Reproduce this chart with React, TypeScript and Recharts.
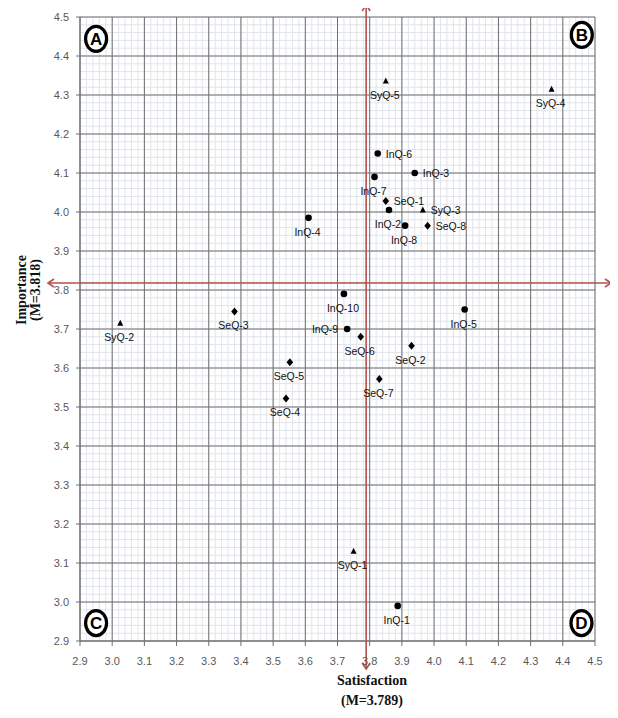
import React from 'react';
import {
  ScatterChart,
  Scatter,
  XAxis,
  YAxis,
  CartesianGrid,
  ReferenceLine,
  ReferenceDot,
  Label,
} from 'recharts';

// Information quality items
const inqNames = ['InQ-1', 'InQ-2', 'InQ-3', 'InQ-4', 'InQ-5', 'InQ-6', 'InQ-7', 'InQ-8', 'InQ-9', 'InQ-10'];
const inqSatisfaction = [3.887, 3.86, 3.94, 3.61, 4.095, 3.825, 3.815, 3.91, 3.73, 3.72];
const inqImportance = [2.99, 4.005, 4.1, 3.985, 3.75, 4.15, 4.09, 3.965, 3.7, 3.79];

// Service quality items
const seqNames = ['SeQ-1', 'SeQ-2', 'SeQ-3', 'SeQ-4', 'SeQ-5', 'SeQ-6', 'SeQ-7', 'SeQ-8'];
const seqSatisfaction = [3.85, 3.93, 3.38, 3.54, 3.552, 3.772, 3.83, 3.98];
const seqImportance = [4.028, 3.657, 3.745, 3.522, 3.615, 3.68, 3.572, 3.965];

// System quality items
const syqNames = ['SyQ-1', 'SyQ-2', 'SyQ-3', 'SyQ-4', 'SyQ-5'];
const syqSatisfaction = [3.75, 3.025, 3.965, 4.365, 3.85];
const syqImportance = [3.13, 3.715, 4.005, 4.315, 4.336];

// means
const satisfactionMean = 3.789;
const importanceMean = 3.818;

// axis ticks
const axisDomain = [2.9, 4.5];
const tickValues = [2.9, 3.0, 3.1, 3.2, 3.3, 3.4, 3.5, 3.6, 3.7, 3.8, 3.9, 4.0, 4.1, 4.2, 4.3, 4.4, 4.5];
const minorTicks = Array.from({ length: 81 }, (_, i) => Math.round((2.9 + i * 0.02) * 100) / 100);

// quadrant badges
const quadrantLetters = ['A', 'B', 'C', 'D'];
const quadrantSat = [2.95, 4.459, 2.95, 4.458];
const quadrantImp = [4.444, 4.454, 2.946, 2.946];

// where a label sits, default is below the point
const labelSide: Record<string, string> = {
  'InQ-6': 'right',
  'InQ-3': 'right',
  'SeQ-1': 'right',
  'SyQ-3': 'right',
  'SeQ-8': 'right',
  'InQ-9': 'left',
};

const build = (names: string[], sat: number[], imp: number[]) =>
  names.map((name, i) => ({ name, satisfaction: sat[i], importance: imp[i] }));

const inqData = build(inqNames, inqSatisfaction, inqImportance);
const seqData = build(seqNames, seqSatisfaction, seqImportance);
const syqData = build(syqNames, syqSatisfaction, syqImportance);

const labelFont = "'Liberation Sans', Arial, sans-serif";
const red = '#b5504e';
const gridDark = '#6f6f6f';

const PointLabel = ({ cx, cy, name }: { cx: number; cy: number; name: string }) => {
  const side = labelSide[name] || 'below';
  if (side === 'right') {
    return (
      <text x={cx + 8} y={cy + 4} fontSize={10.5} fontFamily={labelFont} fill="#111">
        {name}
      </text>
    );
  }
  if (side === 'left') {
    return (
      <text x={cx - 9} y={cy + 4} textAnchor="end" fontSize={10.5} fontFamily={labelFont} fill="#111">
        {name}
      </text>
    );
  }
  return (
    <text x={cx - 1} y={cy + 18} textAnchor="middle" fontSize={10.5} fontFamily={labelFont} fill="#111">
      {name}
    </text>
  );
};

const circleShape = (props: any) => {
  const { cx, cy, payload } = props;
  return (
    <g>
      <circle cx={cx} cy={cy} r={3.3} fill="#000" />
      <PointLabel cx={cx} cy={cy} name={payload.name} />
    </g>
  );
};

const diamondShape = (props: any) => {
  const { cx, cy, payload } = props;
  return (
    <g>
      <path d={`M${cx},${cy - 4} L${cx + 3.3},${cy} L${cx},${cy + 4} L${cx - 3.3},${cy} Z`} fill="#000" />
      <PointLabel cx={cx} cy={cy} name={payload.name} />
    </g>
  );
};

const triangleShape = (props: any) => {
  const { cx, cy, payload } = props;
  return (
    <g>
      <path d={`M${cx},${cy - 3.5} L${cx + 3},${cy + 2.5} L${cx - 3},${cy + 2.5} Z`} fill="#000" />
      <PointLabel cx={cx} cy={cy} name={payload.name} />
    </g>
  );
};

// vertical mean line, sticks out past the plot with arrow heads
const verticalMeanLine = (props: any) => {
  const x = props.x1;
  const top = Math.min(props.y1, props.y2) - 12;
  const bottom = Math.max(props.y1, props.y2) + 28;
  return (
    <g stroke={red} strokeWidth={1.6} fill="none">
      <line x1={x} y1={top} x2={x} y2={bottom} />
      <polyline points={`${x - 4},${top + 6} ${x},${top} ${x + 4},${top + 6}`} />
      <polyline points={`${x - 4},${bottom - 6} ${x},${bottom} ${x + 4},${bottom - 6}`} />
    </g>
  );
};

const horizontalMeanLine = (props: any) => {
  const y = props.y1;
  const left = Math.min(props.x1, props.x2) - 32;
  const right = Math.max(props.x1, props.x2) + 16;
  return (
    <g stroke={red} strokeWidth={1.6} fill="none">
      <line x1={left} y1={y} x2={right} y2={y} />
      <polyline points={`${left + 6},${y - 4} ${left},${y} ${left + 6},${y + 4}`} />
      <polyline points={`${right - 6},${y - 4} ${right},${y} ${right - 6},${y + 4}`} />
    </g>
  );
};

const quadrantBadge = (letter: string) => (props: any) => {
  const { cx, cy } = props;
  return (
    <g>
      <ellipse cx={cx} cy={cy} rx={10.5} ry={12.5} fill="#fff" stroke="#000" strokeWidth={3.2} />
      <text
        x={cx}
        y={cy + 6}
        textAnchor="middle"
        fontSize={17}
        fontWeight="bold"
        fontFamily="'Liberation Sans', Arial, sans-serif"
        fill="#000"
      >
        {letter}
      </text>
    </g>
  );
};

// minor grid positions, taken from the axis scale when available
const minorVertical = ({ xAxis, offset }: any) =>
  minorTicks.map((t) =>
    xAxis && typeof xAxis.scale === 'function'
      ? xAxis.scale(t)
      : offset.left + ((t - axisDomain[0]) / (axisDomain[1] - axisDomain[0])) * offset.width
  );

const minorHorizontal = ({ yAxis, offset }: any) =>
  minorTicks.map((t) =>
    yAxis && typeof yAxis.scale === 'function'
      ? yAxis.scale(t)
      : offset.top + ((axisDomain[1] - t) / (axisDomain[1] - axisDomain[0])) * offset.height
  );

const titleFont = "'Liberation Serif', 'Times New Roman', serif";

const App = () => {
  return (
    <div style={{ width: 610, height: 710 }}>
      <ScatterChart width={610} height={710} margin={{ top: 9, right: 23, left: 32, bottom: 47 }}>
        <CartesianGrid
          stroke="#e0e4eb"
          strokeWidth={1}
          verticalCoordinatesGenerator={minorVertical}
          horizontalCoordinatesGenerator={minorHorizontal}
        />
        <CartesianGrid stroke={gridDark} strokeWidth={1} />
        <XAxis
          type="number"
          dataKey="satisfaction"
          domain={axisDomain}
          ticks={tickValues}
          interval={0}
          allowDataOverflow
          tickFormatter={(v: number) => v.toFixed(1)}
          tick={{ fontSize: 11, fill: '#595959', fontFamily: labelFont }}
          tickSize={5}
          tickMargin={11}
          height={30}
          axisLine={{ stroke: gridDark }}
          tickLine={{ stroke: gridDark }}
        >
          <Label
            content={(p: any) => {
              const cx = 364;
              const y = p.viewBox.y + 44;
              return (
                <g fontFamily={titleFont} fontWeight="bold" fontSize={14} fill="#111" textAnchor="middle">
                  <text x={cx} y={y}>Satisfaction</text>
                  <text x={cx} y={y + 20}>(M=3.789)</text>
                </g>
              );
            }}
          />
        </XAxis>
        <YAxis
          type="number"
          dataKey="importance"
          domain={axisDomain}
          ticks={tickValues}
          interval={0}
          allowDataOverflow
          tickFormatter={(v: number) => v.toFixed(1)}
          tick={{ fontSize: 11, fill: '#595959', fontFamily: labelFont }}
          tickSize={4}
          tickMargin={7}
          width={40}
          axisLine={{ stroke: gridDark }}
          tickLine={{ stroke: gridDark }}
        >
          <Label
            content={() => {
              const cy = 282;
              return (
                <g fontFamily={titleFont} fontWeight="bold" fontSize={14} fill="#111" textAnchor="middle">
                  <text x={18} y={cy} transform={`rotate(-90 18 ${cy})`}>Importance</text>
                  <text x={32} y={cy} transform={`rotate(-90 32 ${cy})`}>(M=3.818)</text>
                </g>
              );
            }}
          />
        </YAxis>
        <ReferenceLine x={satisfactionMean} shape={verticalMeanLine} />
        <ReferenceLine y={importanceMean} shape={horizontalMeanLine} />
        <Scatter name="InQ" data={inqData} shape={circleShape} isAnimationActive={false} />
        <Scatter name="SeQ" data={seqData} shape={diamondShape} isAnimationActive={false} />
        <Scatter name="SyQ" data={syqData} shape={triangleShape} isAnimationActive={false} />
        {quadrantLetters.map((letter, i) => (
          <ReferenceDot
            key={letter}
            x={quadrantSat[i]}
            y={quadrantImp[i]}
            r={12}
            shape={quadrantBadge(letter)}
          />
        ))}
      </ScatterChart>
    </div>
  );
};

export default App;
